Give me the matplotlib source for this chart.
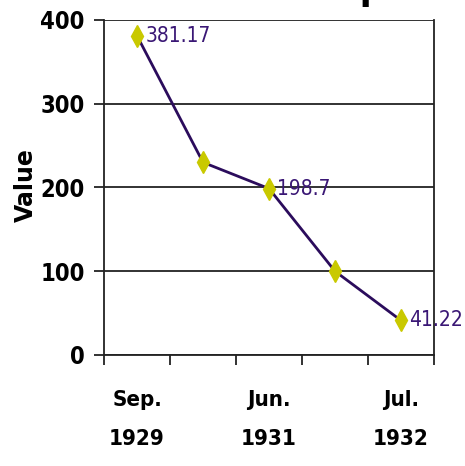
import numpy as np
import matplotlib.pyplot as plt

# Dow Jones index at five dates, 1929-1932
positions = [1, 2, 3, 4, 5]
values = [381.17, 230, 198.7, 100, 41.22]
label_idx = [0, 2, 4]                       # points that get a value label
tick_pos = [1, 3, 5]
tick_labels = ["Sep.\n1929", "Jun.\n1931", "Jul.\n1932"]

narrow = dict(family="DejaVu Sans", stretch="condensed")
line_col = "#2b0c5c"
text_col = "#3a1775"
marker_col = "#c9c900"

fig = plt.figure(figsize=(4.65, 4.66), dpi=100)
ax = fig.add_axes([0.2237, 0.2382, 0.7097, 0.7189])

ax.plot(positions, values, color=line_col, lw=2, zorder=3)
ax.plot(positions, values, linestyle="none", marker="d", markersize=11,
        markerfacecolor=marker_col, markeredgecolor=marker_col, zorder=4)

for i in label_idx:
    ax.annotate(f"{values[i]:g}", (positions[i], values[i]),
                xytext=(6, 0), textcoords="offset points",
                ha="left", va="center", fontsize=15, color=text_col,
                zorder=5, **narrow)

ax.set_xlim(0.5, 5.5)
ax.set_ylim(0, 400)
ax.set_yticks([0, 100, 200, 300, 400])
ax.yaxis.grid(True, color="#222222", lw=1.3)
ax.set_axisbelow(True)

# category boundaries carry the tick marks, labels sit at the centres
ax.set_xticks(np.arange(0.5, 6, 1))
ax.set_xticklabels([])
ax.set_xticks(tick_pos, minor=True)
ax.set_xticklabels(tick_labels, minor=True, fontsize=16, fontweight="bold",
                   linespacing=2.2, **narrow)
ax.tick_params(axis="x", which="major", direction="out", length=7,
               width=1.3, color="#222222")
ax.tick_params(axis="x", which="minor", length=0, pad=25)
ax.tick_params(axis="y", direction="out", length=7, width=1.3,
               color="#222222", pad=7)
for lab in ax.get_yticklabels():
    lab.set_fontsize(17)
    lab.set_fontweight("bold")
    lab.set_family(narrow["family"])
    lab.set_stretch(narrow["stretch"])

for side in ["left", "right", "bottom"]:
    ax.spines[side].set_color("#222222")
    ax.spines[side].set_linewidth(1.3)
ax.spines["top"].set_visible(False)

ax.set_ylabel("Value", fontsize=17, fontweight="bold")
ax.yaxis.set_label_coords(-0.2, 0.507)

# chart title sits above the visible area; only the tail of the last letter shows
fig.text(0.828, 1.003, "Stock Market Slump", ha="right", va="baseline",
         fontsize=28, fontweight="bold", **narrow)

fig.savefig("out.png", dpi=100)
